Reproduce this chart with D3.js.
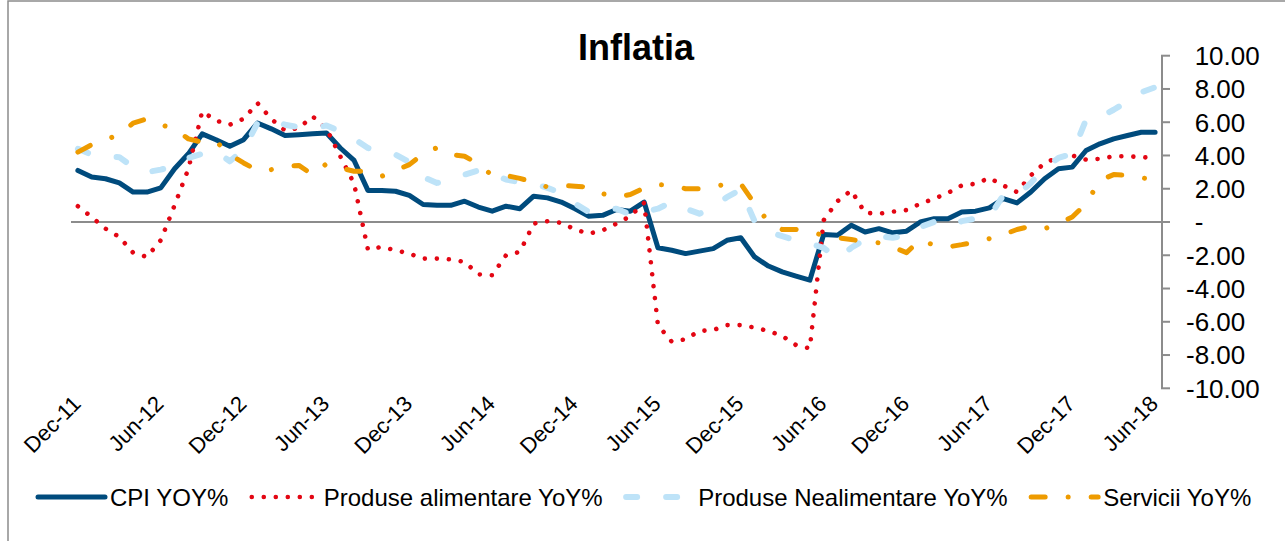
<!DOCTYPE html>
<html lang="en">
<head>
  <meta charset="UTF-8">
  <title>Inflatia</title>
  <script src="https://d3js.org/d3.v7.min.js"></script>
  <style>
    body { margin: 0; background: #fff; }
    svg { display: block; font-family: "Liberation Sans", Arial, sans-serif; }
    .series { fill: none; stroke-linejoin: round; stroke-linecap: round; }
  </style>
</head>
<body>
  <svg width="1285" height="541"></svg>

  <script>
    // months Dec-11 .. Jun-18
    const months = d3.timeMonth.range(new Date(2011, 11, 1), new Date(2018, 6, 1));

    const cpi = [3.1, 2.7, 2.6, 2.35, 1.8, 1.8, 2.05, 3.2, 4.1, 5.3,
      4.95, 4.55, 4.95, 5.95, 5.6, 5.2, 5.25, 5.3, 5.35, 4.45,
      3.7, 1.9, 1.9, 1.85, 1.6, 1.05, 1.0, 1.0, 1.25, 0.9,
      0.65, 0.95, 0.8, 1.55, 1.45, 1.2, 0.8, 0.35, 0.4, 0.75,
      0.65, 1.2, -1.55, -1.7, -1.9, -1.75, -1.6, -1.1, -0.95, -2.1,
      -2.65, -3.0, -3.25, -3.5, -0.75, -0.8, -0.2, -0.6, -0.4, -0.65,
      -0.55, 0.0, 0.2, 0.2, 0.6, 0.65, 0.85, 1.4, 1.15, 1.8,
      2.6, 3.2, 3.3, 4.3, 4.7, 5.0, 5.2, 5.4, 5.4];

    const alimentare = [0.95, 0.3, -0.4, -0.9, -1.85, -2.1, -1.1, 1.0, 3.2, 6.65,
      6.1, 5.85, 6.2, 7.15, 6.2, 5.5, 5.65, 6.35, 5.6, 3.95,
      2.3, -1.65, -1.5, -1.7, -1.9, -2.2, -2.2, -2.25, -2.4, -3.15,
      -3.2, -2.0, -1.8, -0.1, 0.05, -0.05, -0.45, -0.7, -0.5, -0.1,
      0.35, 1.15, -6.2, -7.2, -7.05, -6.55, -6.5, -6.2, -6.2, -6.35,
      -6.55, -6.85, -7.4, -7.6, 0.1, 1.25, 1.9, 0.55, 0.5, 0.62,
      0.72, 1.1, 1.4, 1.75, 2.2, 2.3, 2.65, 2.2, 1.8, 2.8,
      3.55, 3.9, 4.0, 3.75, 3.8, 3.95, 3.95, 3.9, 3.85];

    const nealimentare = [4.4, 4.05, 3.95, 3.9, 3.3, 3.0, 3.15, 3.35, 3.85, 4.1,
      4.25, 3.65, 4.35, 5.95, 6.15, 5.85, 5.7, 5.65, 5.8, 5.45,
      5.0, 4.45, 4.2, 4.05, 3.6, 2.7, 2.35, 2.5, 2.85, 3.1,
      2.9, 2.55, 2.4, 2.3, 2.05, 1.75, 1.1, 0.6, 0.7, 0.8,
      0.45, 0.6, 0.8, 1.2, 0.8, 0.5, 0.85, 1.5, 1.95, 0.05,
      -0.6, -0.85, -1.1, -1.3, -1.55, -2.2, -1.55, -1.05, -0.85, -0.95,
      -0.8, -0.3, 0.0, -0.25, 0.05, 0.2, 0.3, 1.6, 1.6, 2.35,
      3.25, 3.85, 4.1, 6.15, 6.3, 6.75, 7.25, 7.8, 8.1];

    const servicii = [4.2, 4.65, 4.95, 5.25, 5.95, 6.2, 5.85, 5.6, 5.0, 4.8,
      4.85, 4.05, 3.55, 3.1, 3.15, 3.35, 3.4, 2.85, 3.5, 3.25,
      3.05, 3.05, 2.75, 3.1, 3.45, 4.1, 4.47, 4.05, 3.95, 3.5,
      2.8, 2.8, 2.62, 2.4, 2.1, 2.2, 2.15, 2.1, 1.7, 1.5,
      1.65, 2.05, 2.25, 2.2, 2.0, 2.0, 2.1, 2.3, 2.3, 1.1,
      0.0, -0.45, -0.45, -0.6, -0.8, -0.95, -1.05, -1.2, -1.25, -1.5,
      -1.84, -1.06, -1.4, -1.5, -1.36, -1.2, -1.0, -0.77, -0.45, -0.25,
      -0.4, -0.1, 0.3, 1.1, 2.5, 2.85, 2.8, 2.65, 2.55];

    const yTicks = [10, 8, 6, 4, 2, 0, -2, -4, -6, -8, -10];

    const series = [
      { name: "CPI YOY%", values: cpi, color: "#004B7D", width: 5, dash: null },
      { name: "Produse alimentare YoY%", values: alimentare, color: "#E30613", width: 4.6, dash: "0.01,12" },
      { name: "Produse Nealimentare YoY%", values: nealimentare, color: "#BEE3F8", width: 6, dash: "11,29" },
      { name: "Servicii YoY%", values: servicii, color: "#EE9B00", width: 5, dash: "14,23,0.01,23" }
    ];

    const svg = d3.select("svg");
    const fmtMonth = d3.timeFormat("%b-%y");

    // outer frame
    svg.append("rect")
      .attr("x", 8).attr("y", 1)
      .attr("width", 1300).attr("height", 600)
      .attr("fill", "none")
      .attr("stroke", "#8c8c8c")
      .attr("stroke-width", 1.5);

    const x = d3.scalePoint()
      .domain(months.map((d, i) => i))
      .range([71, 1162])
      .padding(0.5);

    const y = d3.scaleLinear()
      .domain([-10, 10])
      .range([388.3, 55.7]);

    // title
    svg.append("text")
      .attr("x", 636).attr("y", 60)
      .attr("text-anchor", "middle")
      .attr("font-size", 36)
      .attr("font-weight", "bold")
      .text("Inflatia");

    // zero line (category axis)
    svg.append("line")
      .attr("x1", 71).attr("x2", 1162)
      .attr("y1", y(0)).attr("y2", y(0))
      .attr("stroke", "#8c8c8c")
      .attr("stroke-width", 2);

    // right value axis
    const yAxis = svg.append("g");
    yAxis.append("line")
      .attr("x1", 1162).attr("x2", 1162)
      .attr("y1", y(10)).attr("y2", y(-10))
      .attr("stroke", "#8c8c8c")
      .attr("stroke-width", 2);

    yAxis.selectAll("line.tick")
      .data(yTicks)
      .enter().append("line")
      .attr("class", "tick")
      .attr("x1", 1161).attr("x2", 1170)
      .attr("y1", d => y(d)).attr("y2", d => y(d))
      .attr("stroke", "#8c8c8c")
      .attr("stroke-width", 2);

    const tickFont = 26;
    yAxis.selectAll("text")
      .data(yTicks)
      .enter().append("text")
      .attr("x", d => d < 0 ? 1186 : 1186 + tickFont * 0.333)
      .attr("y", d => y(d))
      .attr("dy", "0.36em")
      .attr("font-size", tickFont)
      .text(d => d === 0 ? "-" : d.toFixed(2));

    // category labels every 6 months
    svg.append("g")
      .selectAll("text")
      .data(months.map((d, i) => i).filter(i => i % 6 === 0))
      .enter().append("text")
      .attr("transform", i => `translate(${x(i) - 7},394) rotate(-45)`)
      .attr("text-anchor", "end")
      .attr("dy", "0.72em")
      .attr("font-size", 22)
      .text(i => fmtMonth(months[i]));

    // series lines
    const line = d3.line()
      .x((d, i) => x(i))
      .y(d => y(d));

    svg.append("g")
      .selectAll("path")
      .data(series)
      .enter().append("path")
      .attr("class", "series")
      .attr("d", d => line(d.values))
      .attr("stroke", d => d.color)
      .attr("stroke-width", d => d.width)
      .attr("stroke-dasharray", d => d.dash);

    // legend
    const legend = svg.append("g");
    let lx = 38;
    const ly = 497;
    series.forEach(s => {
      legend.append("line")
        .attr("class", "series")
        .attr("x1", lx).attr("x2", lx + 67)
        .attr("y1", ly).attr("y2", ly)
        .attr("stroke", s.color)
        .attr("stroke-width", s.width)
        .attr("stroke-dasharray", s.dash);
      const t = legend.append("text")
        .attr("x", lx + 72)
        .attr("y", ly)
        .attr("dy", "0.36em")
        .attr("font-size", 24)
        .text(s.name);
      lx += 72 + t.node().getComputedTextLength() + 23.5;
    });
  </script>
</body>
</html>
